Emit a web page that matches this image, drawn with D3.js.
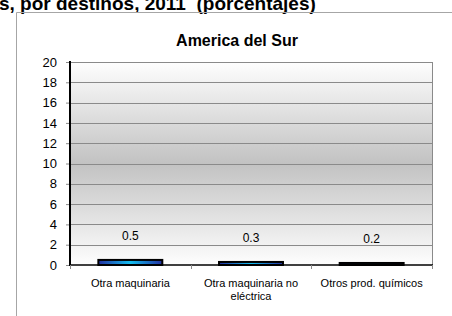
<!DOCTYPE html>
<html>
<head>
<meta charset="utf-8">
<script src="https://cdn.jsdelivr.net/npm/d3@7"></script>
<style>
  body { margin: 0; background: #fff; }
  svg { display: block; font-family: "Liberation Sans", Arial, sans-serif; }
</style>
</head>
<body>
<svg id="chart"></svg>
<script>
const width = 452;
const height = 316;
const margin = { top: 62, right: 20, bottom: 51, left: 70 };

const categories = [["Otra maquinaria"], ["Otra maquinaria no", "eléctrica"], ["Otros prod. químicos"]];
const values = [0.5, 0.3, 0.2];
const yTicks = [0, 2, 4, 6, 8, 10, 12, 14, 16, 18, 20];

const svg = d3.select("#chart").attr("width", width).attr("height", height);
const defs = svg.append("defs");

const bg = defs.append("linearGradient").attr("id", "plotBg")
  .attr("x1", 0).attr("y1", 0).attr("x2", 0).attr("y2", 1);
bg.append("stop").attr("offset", "0%").attr("stop-color", "#fefefe");
bg.append("stop").attr("offset", "50%").attr("stop-color", "#c2c2c2");
bg.append("stop").attr("offset", "100%").attr("stop-color", "#fefefe");

// bars: blue at the ends, cyan in the middle
const barGrad = defs.append("linearGradient").attr("id", "barFill")
  .attr("x1", 0).attr("y1", 0).attr("x2", 1).attr("y2", 0);
barGrad.append("stop").attr("offset", "0%").attr("stop-color", "#2330a0");
barGrad.append("stop").attr("offset", "50%").attr("stop-color", "#12bdf0");
barGrad.append("stop").attr("offset", "100%").attr("stop-color", "#2330a0");

// page title (cut at the top) and chart frame
svg.append("text")
  .attr("x", -1).attr("y", 10)
  .attr("font-size", 19).attr("font-weight", "bold")
  .attr("xml:space", "preserve")
  .text("s, por destinos, 2011  (porcentajes)");

svg.append("path")
  .attr("d", `M16.5,${height}V12.5H${width}`)
  .attr("fill", "none").attr("stroke", "#a6a6a6");

const x = d3.scaleBand()
  .domain(d3.range(categories.length))
  .range([margin.left, width - margin.right])
  .paddingInner(0.47).paddingOuter(0.235);
const y = d3.scaleLinear().domain([0, 20]).range([height - margin.bottom, margin.top]);

svg.append("rect")
  .attr("x", margin.left).attr("y", margin.top)
  .attr("width", width - margin.right - margin.left)
  .attr("height", y(0) - margin.top)
  .attr("fill", "url(#plotBg)");

svg.append("g")
  .selectAll("line")
  .data(yTicks.filter((d) => d > 0))
  .join("line")
  .attr("x1", margin.left).attr("x2", width - margin.right)
  .attr("y1", (d) => Math.round(y(d)) + 0.5).attr("y2", (d) => Math.round(y(d)) + 0.5)
  .attr("stroke", "#8a8a8a");

svg.append("line")
  .attr("x1", width - margin.right + 0.5).attr("x2", width - margin.right + 0.5)
  .attr("y1", margin.top).attr("y2", y(0))
  .attr("stroke", "#8a8a8a");

svg.append("text")
  .attr("x", 237).attr("y", 46)
  .attr("text-anchor", "middle")
  .attr("font-size", 16).attr("font-weight", "bold")
  .text("America del Sur");

// y axis
svg.append("g")
  .attr("transform", `translate(${margin.left},0)`)
  .call(d3.axisLeft(y).tickValues(yTicks).tickSize(4).tickPadding(9))
  .call((g) => g.select(".domain").remove())
  .call((g) => g.selectAll(".tick line").attr("stroke", "#8a8a8a"))
  .call((g) => g.selectAll(".tick text")
    .attr("font-size", 13).attr("fill", "#000")
    .attr("font-family", "'Liberation Sans', Arial, sans-serif"));

svg.append("line")
  .attr("x1", margin.left).attr("x2", margin.left)
  .attr("y1", margin.top - 1).attr("y2", y(0) + 1)
  .attr("stroke", "#000").attr("stroke-width", 2);

// bars
svg.append("g")
  .selectAll("rect")
  .data(values)
  .join("rect")
  .attr("x", (d, i) => x(i))
  .attr("y", (d) => y(d))
  .attr("width", x.bandwidth())
  .attr("height", (d) => y(0) - y(d))
  .attr("fill", "url(#barFill)")
  .attr("stroke", "#000").attr("stroke-width", 2);

// x axis
svg.append("line")
  .attr("x1", margin.left).attr("x2", width - margin.right + 1)
  .attr("y1", y(0)).attr("y2", y(0))
  .attr("stroke", "#000").attr("stroke-width", 1.5);

const step = x.step();
const bounds = d3.range(categories.length + 1).map((i) => margin.left + i * step);
svg.append("g")
  .selectAll("line")
  .data(bounds)
  .join("line")
  .attr("x1", (d) => Math.round(d) + 0.5).attr("x2", (d) => Math.round(d) + 0.5)
  .attr("y1", y(0)).attr("y2", y(0) + 4)
  .attr("stroke", "#8a8a8a");

svg.append("g")
  .selectAll("text")
  .data(values)
  .join("text")
  .attr("x", (d, i) => x(i) + x.bandwidth() / 2)
  .attr("y", (d) => y(d) - 20)
  .attr("text-anchor", "middle")
  .attr("font-size", 12)
  .text((d) => d3.format(".1f")(d));

svg.append("g")
  .selectAll("text")
  .data(categories)
  .join("text")
  .attr("x", (d, i) => x(i) + x.bandwidth() / 2)
  .attr("y", y(0) + 22)
  .attr("text-anchor", "middle")
  .attr("font-size", 11)
  .selectAll("tspan")
  .data((d) => d)
  .join("tspan")
  .attr("x", function () { return this.parentNode.getAttribute("x"); })
  .attr("dy", (d, i) => (i === 0 ? 0 : 13))
  .text((d) => d);
</script>
</body>
</html>
